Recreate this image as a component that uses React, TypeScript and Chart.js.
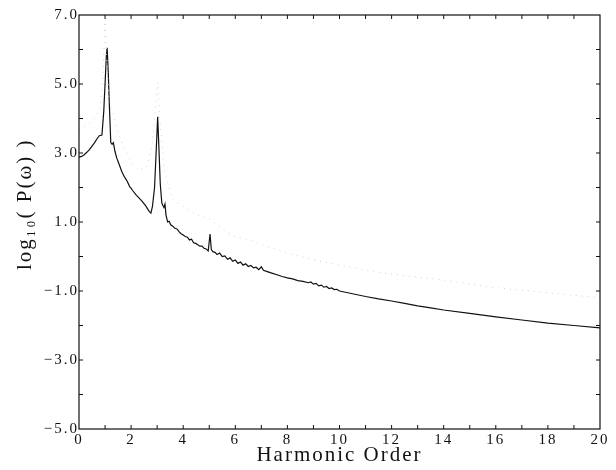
import React, { useEffect, useRef } from "react";
import { Chart, registerables } from "chart.js";

Chart.register(...registerables);

const solidX: number[] = [
  0.0, 0.1, 0.2, 0.3, 0.4, 0.5, 0.6, 0.7, 0.78, 0.88, 0.95, 1.0, 1.05, 1.08, 1.12, 1.17, 1.22, 1.27, 1.32, 1.38,
  1.45, 1.55, 1.65, 1.75, 1.85, 1.95, 2.0, 2.05, 2.2, 2.4, 2.55, 2.7, 2.76, 2.82, 2.9, 2.96, 3.02, 3.07, 3.12, 3.18,
  3.22, 3.26, 3.3, 3.34, 3.4, 3.46, 3.52, 3.6, 3.68, 3.76, 3.84, 3.92, 4.0, 4.08, 4.16, 4.24, 4.32, 4.4, 4.48, 4.56,
  4.64, 4.72, 4.8, 4.88, 4.96, 5.03, 5.08, 5.14, 5.22, 5.3, 5.4, 5.5, 5.6, 5.7, 5.8, 5.9, 6.0, 6.1, 6.2, 6.3,
  6.4, 6.5, 6.6, 6.7, 6.8, 6.9, 7.0, 7.08, 7.2, 7.4, 7.6, 7.8, 8.0, 8.2, 8.4, 8.6, 8.8, 8.9, 9.0, 9.1,
  9.2, 9.3, 9.4, 9.5, 9.6, 9.7, 9.8, 9.9, 10.0, 10.5, 11.0, 11.5, 12.0, 12.5, 13.0, 13.5, 14.0, 15.0, 16.0, 17.0,
  18.0, 19.0, 20.0,
];
const solidY: number[] = [
  2.88, 2.9, 2.95, 3.02, 3.1, 3.2, 3.3, 3.42, 3.5, 3.52, 4.2, 5.0, 5.8, 6.05, 5.4, 4.3, 3.3, 3.25, 3.3, 3.05,
  2.85, 2.65, 2.45, 2.3, 2.18, 2.02, 1.98, 1.92, 1.78, 1.62, 1.48, 1.3, 1.26, 1.45, 2.0, 3.0, 4.05, 3.1, 2.1, 1.55,
  1.48, 1.42, 1.52, 1.2, 1.0, 1.02, 0.92, 0.88, 0.82, 0.8, 0.72, 0.66, 0.62, 0.58, 0.56, 0.48, 0.5, 0.4, 0.38, 0.34,
  0.3, 0.3, 0.24, 0.22, 0.16, 0.65, 0.2, 0.14, 0.12, 0.06, 0.1, 0.0, 0.02, -0.08, -0.04, -0.14, -0.1, -0.2, -0.16, -0.25,
  -0.21, -0.29, -0.26, -0.33, -0.31, -0.38, -0.3, -0.4, -0.43, -0.48, -0.53, -0.58, -0.62, -0.65, -0.7, -0.72, -0.76, -0.74, -0.8, -0.78,
  -0.85, -0.83, -0.89, -0.87, -0.93, -0.91, -0.96, -0.95, -1.0, -1.08, -1.16, -1.23, -1.29, -1.36, -1.43, -1.49, -1.55, -1.65, -1.75, -1.84,
  -1.93, -2.0, -2.07,
];

const dotX: number[] = [
  0.0, 0.3, 0.6, 0.8, 0.9, 0.97, 1.0, 1.05, 1.15, 1.3, 1.5, 1.7, 2.0, 2.3, 2.6, 2.8, 2.95, 3.02, 3.1, 3.3,
  3.6, 4.0, 4.5, 5.0, 5.5, 6.0, 6.6, 7.0, 8.0, 9.25, 10.0, 11.7, 13.0, 14.0, 15.7, 16.85, 18.0, 19.6, 20.0,
];
const dotY: number[] = [
  3.7, 3.8, 4.0, 4.3, 5.0, 6.2, 6.9, 6.0, 4.6, 4.2, 3.6, 3.2, 2.75, 2.5, 2.6, 3.2, 4.4, 5.05, 4.0, 2.4,
  1.65, 1.45, 1.2, 1.1, 0.8, 0.57, 0.48, 0.35, 0.1, -0.14, -0.25, -0.48, -0.6, -0.68, -0.88, -0.97, -1.05, -1.17, -1.2,
];

const xMin = 0;
const xMax = 20;
const yMin = -5;
const yMax = 7;

const FONT = "'Liberation Serif', 'DejaVu Serif', serif";

const spacing = {
  id: "spacing",
  beforeDraw(chart: any) {
    chart.ctx.letterSpacing = "2px";
  },
};

const frame = {
  id: "frame",
  afterDatasetsDraw(chart: any) {
    const { ctx, chartArea } = chart;
    const { left, right, top, bottom } = chartArea;
    const xs = chart.scales.x;
    const ys = chart.scales.y;
    ctx.save();
    ctx.strokeStyle = "#111";
    ctx.lineWidth = 1.2;
    ctx.strokeRect(left, top, right - left, bottom - top);
    ctx.lineWidth = 1;
    for (let v = xMin + 1; v < xMax; v += 1) {
      const px = xs.getPixelForValue(v);
      ctx.beginPath();
      ctx.moveTo(px, bottom);
      ctx.lineTo(px, bottom - 4);
      ctx.moveTo(px, top);
      ctx.lineTo(px, top + 4);
      ctx.stroke();
    }
    for (let v = yMin + 1; v < yMax; v += 1) {
      const py = ys.getPixelForValue(v);
      ctx.beginPath();
      ctx.moveTo(left, py);
      ctx.lineTo(left + 4, py);
      ctx.moveTo(right, py);
      ctx.lineTo(right - 4, py);
      ctx.stroke();
    }
    ctx.restore();
  },
};

export default function App() {
  const ref = useRef<HTMLCanvasElement | null>(null);
  useEffect(() => {
    if (!ref.current) return;
    const chart = new Chart(ref.current, {
      type: "line",
      data: {
        datasets: [
          {
            data: dotX.map((x, i) => ({ x, y: dotY[i] })),
            borderColor: "#d2d2d2",
            borderWidth: 1,
            borderDash: [1, 5],
            pointRadius: 0,
            tension: 0,
          },
          {
            data: solidX.map((x, i) => ({ x, y: solidY[i] })),
            borderColor: "#111",
            borderWidth: 1.2,
            pointRadius: 0,
            tension: 0,
          },
        ],
      },
      plugins: [spacing, frame],
      options: {
        animation: false,
        responsive: false,
        maintainAspectRatio: false,
        layout: { padding: { top: 15, right: 16, left: 0, bottom: 0 } },
        plugins: { legend: { display: false }, tooltip: { enabled: false } },
        scales: {
          x: {
            type: "linear",
            min: xMin,
            max: xMax,
            grid: { display: false, drawTicks: false },
            border: { display: false },
            ticks: {
              stepSize: 2,
              padding: 2,
              color: "#111",
              font: { family: FONT, size: 15 },
              maxRotation: 0,
            },
            title: {
              display: true,
              text: "Harmonic Order",
              color: "#111",
              font: { family: FONT, size: 21 },
              padding: { top: 0, bottom: 2 },
            },
            afterFit: (s: any) => {
              s.height = 41;
            },
          },
          y: {
            type: "linear",
            min: yMin,
            max: yMax,
            grid: { display: false, drawTicks: false },
            border: { display: false },
            ticks: {
              stepSize: 1,
              padding: 0,
              color: "#111",
              font: { family: FONT, size: 15 },
              callback: (v: any) => {
                const n = Number(v);
                if (Math.abs(n % 2) !== 1) return "";
                return (n < 0 ? "\u2212" : "") + Math.abs(n).toFixed(1);
              },
            },
            title: {
              display: true,
              text: "\u2003\u2002log\u2081\u2080( P(\u03C9) )",
              color: "#111",
              font: { family: FONT, size: 21 },
              padding: { top: 13, bottom: 0 },
            },
            afterFit: (s: any) => {
              s.width = 79;
            },
          },
        },
      },
    });
    return () => chart.destroy();
  }, []);
  return (
    <div style={{ position: "fixed", left: 0, top: 0, width: 616, height: 470, background: "#fff" }}>
      <canvas ref={ref} width={616} height={470} style={{ width: 616, height: 470 }} />
    </div>
  );
}
